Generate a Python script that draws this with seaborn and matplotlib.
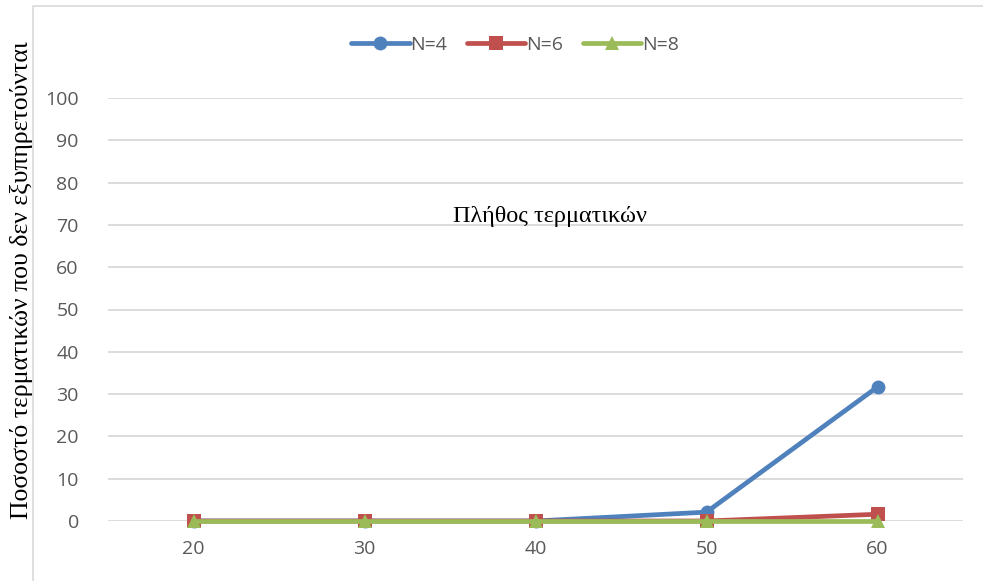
import matplotlib
matplotlib.use("Agg")
import matplotlib.pyplot as plt
import seaborn as sns
import pandas as pd
from matplotlib.patches import Rectangle

terminals = [20, 30, 40, 50, 60]
series_names = ["N=4", "N=6", "N=8"]
n4 = [0, 0, 0, 2.1, 31.7]
n6 = [0, 0, 0, 0, 1.6]
n8 = [0, 0, 0, 0, 0]
y_ticks = [0, 10, 20, 30, 40, 50, 60, 70, 80, 90, 100]
y_label = "Ποσοστό τερματικών που δεν εξυπηρετούνται"
x_title = "Πλήθος τερματικών"

rows = []
for name, vals in zip(series_names, [n4, n6, n8]):
    for x, v in zip(terminals, vals):
        rows.append({"x": x, "y": v, "series": name})
df = pd.DataFrame(rows)

sns.set_theme(style="white")
plt.rcParams["font.family"] = ["Open Sans", "DejaVu Sans"]

fig = plt.figure(figsize=(9.83, 5.81), dpi=100)
ax = fig.add_axes([108/983, (581-521)/581, (963-108)/983, (521-98)/581])

palette = {"N=4": "#4F81BD", "N=6": "#C0504D", "N=8": "#9BBB59"}
markers = {"N=4": "o", "N=6": "s", "N=8": "^"}
sns.lineplot(data=df, x="x", y="y", hue="series", style="series",
             palette=palette, markers=markers, dashes=False,
             linewidth=3.4, markersize=10, markeredgewidth=0, ax=ax)
for ln in ax.lines:
    ln.set_clip_on(False)

ax.set_xlim(15, 65)
ax.set_ylim(0, 100)
ax.set_xticks(terminals)
ax.set_xticklabels([str(t) for t in terminals])
ax.set_yticks(y_ticks)
ax.set_yticklabels([str(t) for t in y_ticks])
for s in ax.spines.values():
    s.set_visible(False)
ax.grid(axis="y", color="#D9D9D9", linewidth=1.3)
ax.set_axisbelow(True)
ax.tick_params(axis="both", length=0, labelsize=14, labelcolor="#595959")
ax.tick_params(axis="y", pad=21)
ax.tick_params(axis="x", pad=14)
ax.set_xlabel("")
ax.set_ylabel("")

ax.text(0.517, 0.719, x_title, transform=ax.transAxes, ha="center", va="center",
        fontsize=17.5, family=["Liberation Serif", "DejaVu Serif"], color="black")
fig.text(22/983, 1 - 280/581, y_label, rotation=90, ha="center", va="center",
         fontsize=18.5, family=["Liberation Serif", "DejaVu Serif"], color="black")

leg = ax.legend(loc="center", bbox_to_anchor=(515/983, 1 - 45/581),
                bbox_transform=fig.transFigure, ncol=3, frameon=False,
                handlelength=3.0, handletextpad=0.05, columnspacing=1.0,
                fontsize=14)
for t in leg.get_texts():
    t.set_color("#595959")

fig.patches.append(Rectangle((33/983, -0.1), 1.2, (1 - 6/581) + 0.1,
                             transform=fig.transFigure, fill=False,
                             edgecolor="#D9D9D9", linewidth=1.2, zorder=-1))

fig.savefig("out.png", dpi=100)
